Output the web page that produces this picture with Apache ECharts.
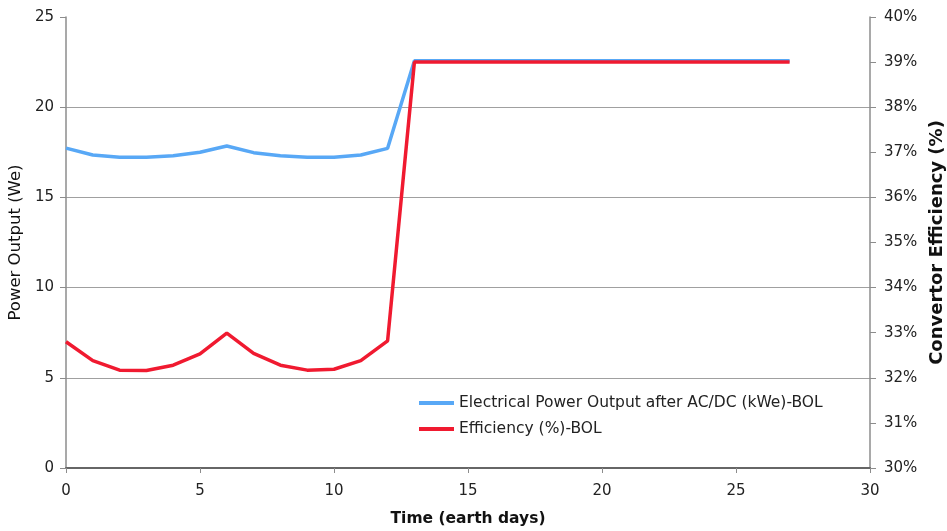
<!DOCTYPE html>
<html>
<head>
<meta charset="utf-8">
<script src="https://cdn.jsdelivr.net/npm/echarts@6/dist/echarts.min.js"></script>
<style>
  html, body { margin: 0; padding: 0; background: #fff; }
  #chart { width: 947px; height: 531px; }
</style>
</head>
<body>
<div id="chart"></div>
<script>
// Time in earth days
const days = [0, 1, 2, 3, 4, 5, 6, 7, 8, 9, 10, 11, 12, 13, 14, 15, 16, 17, 18, 19, 20, 21, 22, 23, 24, 25, 26, 27];
// Electrical power output after AC/DC, begin of life
const powerBOL = [17.73, 17.35, 17.22, 17.22, 17.31, 17.5, 17.85, 17.48, 17.31, 17.22, 17.22, 17.35, 17.72, 22.58,
  22.58, 22.58, 22.58, 22.58, 22.58, 22.58, 22.58, 22.58, 22.58, 22.58, 22.58, 22.58, 22.58, 22.58];
// Convertor efficiency (%), begin of life
const efficiencyBOL = [32.8, 32.38, 32.17, 32.16, 32.28, 32.53, 32.99, 32.54, 32.28, 32.17, 32.19, 32.38, 32.82, 39.0,
  39.0, 39.0, 39.0, 39.0, 39.0, 39.0, 39.0, 39.0, 39.0, 39.0, 39.0, 39.0, 39.0, 39.0];

const seriesNames = ['Electrical Power Output after AC/DC (kWe)-BOL', 'Efficiency (%)-BOL'];
const FONT = 'DejaVu Sans';
const axisGray = '#8c8c8c';

const chart = echarts.init(document.getElementById('chart'));
chart.setOption({
  animation: false,
  backgroundColor: '#fff',
  grid: { left: 66, right: 77, top: 17, bottom: 63, outerBoundsMode: 'none' },
  legend: {
    orient: 'vertical',
    left: 414,
    top: 390,
    itemWidth: 35,
    itemHeight: 4,
    itemGap: 10,
    icon: 'rect',
    textStyle: { fontFamily: FONT, fontSize: 15.5, color: '#222' },
    data: seriesNames
  },
  xAxis: {
    type: 'value',
    min: 0, max: 30, interval: 5,
    name: 'Time (earth days)',
    nameLocation: 'middle',
    nameGap: 43,
    nameTextStyle: { fontFamily: FONT, fontSize: 15.5, fontWeight: 'bold', color: '#111' },
    axisLine: { lineStyle: { color: '#666', width: 2 } },
    axisTick: { show: true, length: 5, lineStyle: { color: axisGray } },
    axisLabel: { fontFamily: FONT, fontSize: 15, color: '#222', margin: 16 },
    splitLine: { show: false }
  },
  yAxis: [
    {
      type: 'value',
      min: 0, max: 25, interval: 5,
      position: 'left',
      name: 'Power Output (We)',
      nameLocation: 'middle',
      nameRotate: 90,
      nameGap: 41,
      nameTextStyle: { fontFamily: FONT, fontSize: 16.5, color: '#111' },
      axisLine: { show: true, lineStyle: { color: axisGray, width: 1.5 } },
      axisTick: { show: true, length: 6, lineStyle: { color: axisGray } },
      axisLabel: { fontFamily: FONT, fontSize: 15, color: '#222', margin: 12 },
      splitLine: { show: true, showMinLine: false, showMaxLine: false, lineStyle: { color: '#a0a0a0', width: 1 } }
    },
    {
      type: 'value',
      min: 30, max: 40, interval: 1,
      position: 'right',
      name: 'Convertor Efficiency (%)',
      nameLocation: 'middle',
      nameRotate: 90,
      nameGap: 58,
      nameTextStyle: { fontFamily: FONT, fontSize: 18, fontWeight: 'bold', color: '#111' },
      axisLine: { show: true, lineStyle: { color: axisGray, width: 1.5 } },
      axisTick: { show: true, length: 6, lineStyle: { color: axisGray } },
      axisLabel: { fontFamily: FONT, fontSize: 15, color: '#222', margin: 14, formatter: '{value}%' },
      splitLine: { show: false }
    }
  ],
  series: [
    {
      name: seriesNames[0],
      type: 'line',
      yAxisIndex: 0,
      data: days.map((d, i) => [d, powerBOL[i]]),
      showSymbol: false,
      lineStyle: { color: '#58a8f6', width: 3.5 },
      itemStyle: { color: '#58a8f6' },
      z: 2
    },
    {
      name: seriesNames[1],
      type: 'line',
      yAxisIndex: 1,
      data: days.map((d, i) => [d, efficiencyBOL[i]]),
      showSymbol: false,
      lineStyle: { color: '#f01a30', width: 3.5 },
      itemStyle: { color: '#f01a30' },
      z: 3
    }
  ]
});
</script>
</body>
</html>
